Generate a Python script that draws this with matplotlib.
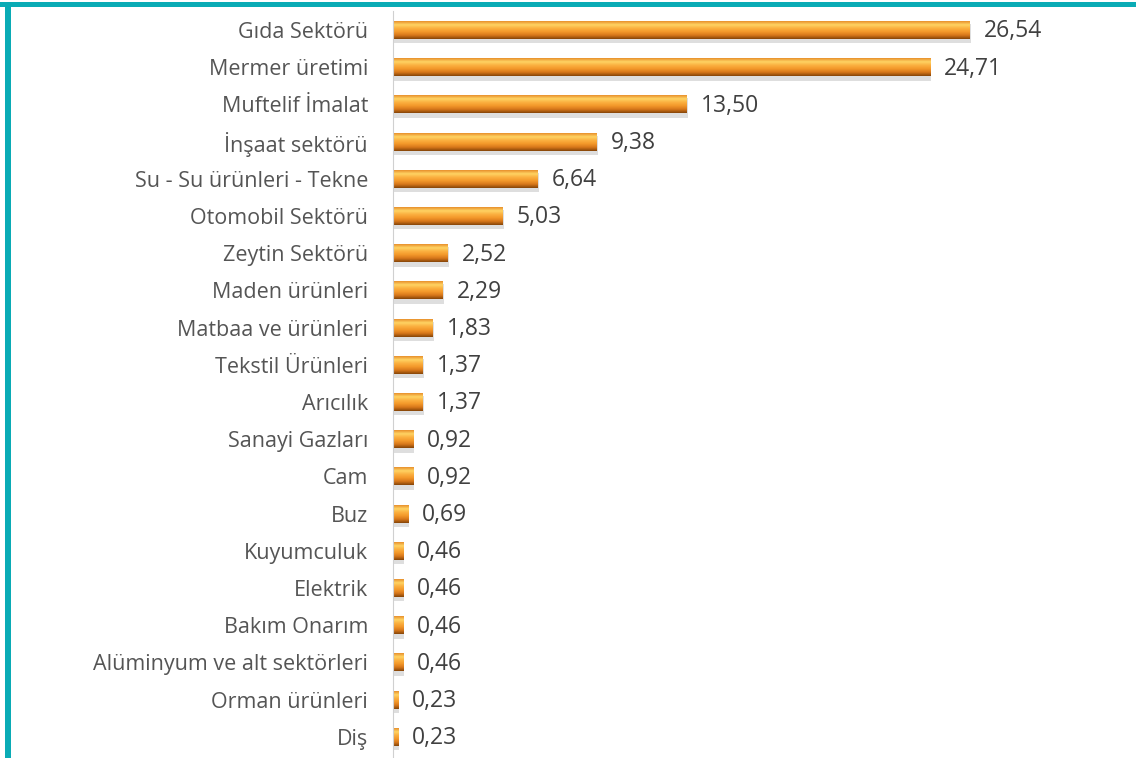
import numpy as np
import matplotlib.pyplot as plt
from matplotlib.colors import LinearSegmentedColormap
from matplotlib.patches import Rectangle

## DATA
sectors = ["Gıda Sektörü", "Mermer üretimi", "Muftelif İmalat", "İnşaat sektörü",
           "Su - Su ürünleri - Tekne", "Otomobil Sektörü", "Zeytin Sektörü",
           "Maden ürünleri", "Matbaa ve ürünleri", "Tekstil Ürünleri", "Arıcılık",
           "Sanayi Gazları", "Cam", "Buz", "Kuyumculuk", "Elektrik", "Bakım Onarım",
           "Alüminyum ve alt sektörleri", "Orman ürünleri", "Diş"]
values = [26.54, 24.71, 13.50, 9.38, 6.64, 5.03, 2.52, 2.29, 1.83, 1.37, 1.37,
          0.92, 0.92, 0.69, 0.46, 0.46, 0.46, 0.46, 0.23, 0.23]

plt.rcParams['font.family'] = ['Open Sans', 'DejaVu Sans']

W, H = 1136, 758
fig = plt.figure(figsize=(W / 100, H / 100), dpi=100)
ax = fig.add_axes([393 / W, 0, (1120 - 393) / W, 1])

# vertical shading of the bars: top edge -> highlight -> orange -> dark bottom
bar_cmap = LinearSegmentedColormap.from_list(
    "bar", ["#E8902C", "#FFD464", "#FBB040", "#F3982A", "#D6761A", "#864508"])
grad = np.linspace(0, 1, 64).reshape(-1, 1)

h = 0.48
for i, v in enumerate(values):
    # soft shadow
    ax.add_patch(Rectangle((0, i - h / 2 + 0.08), v + 0.06, h + 0.04,
                           color="#8a8a8a", alpha=0.28, lw=0, zorder=1))
    ax.imshow(grad, cmap=bar_cmap, aspect='auto', interpolation='bilinear',
              extent=(0, v, i + h / 2, i - h / 2), zorder=2)
    ax.text(v + 0.65, i + 0.04, f"{v:.2f}".replace(".", ","), va='center', ha='left',
            fontsize=16.5, color="#404040")

ax.set_xlim(0, (1120 - 393) / 21.74)
ax.set_ylim(19.57, -0.806)
ax.set_yticks(range(len(sectors)))
ax.set_yticklabels(sectors, fontsize=15.5, color="#555555")
ax.tick_params(axis='y', length=0, pad=18)
ax.set_xticks([])
for s in ["top", "right", "bottom"]:
    ax.spines[s].set_visible(False)
ax.spines["left"].set_color("#d0d0d0")
ax.spines["left"].set_bounds(19.57, -0.5)

# teal frame on top and left
fig.patches.append(Rectangle((0, 1 - 7 / H), 1, 5 / H, transform=fig.transFigure,
                             color="#0AABB5", lw=0))
fig.patches.append(Rectangle((5 / W, 0), 6 / W, 1 - 2 / H, transform=fig.transFigure,
                             color="#0AABB5", lw=0))

fig.savefig("out.png", dpi=100)
